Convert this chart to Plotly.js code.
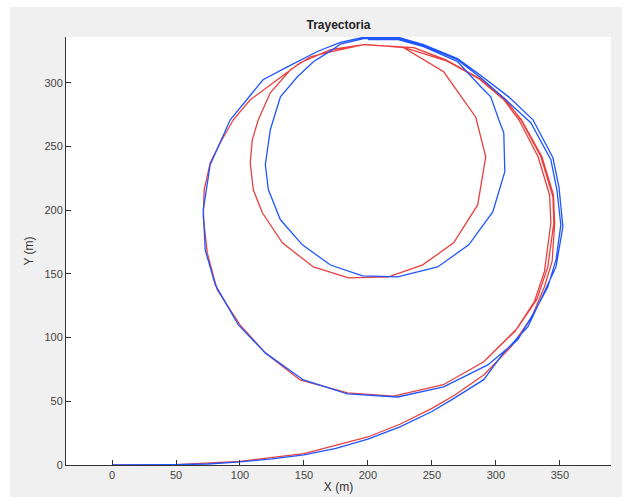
<!DOCTYPE html>
<html>
<head>
<meta charset="utf-8">
<script src="https://cdn.plot.ly/plotly-3.0.1.min.js"></script>
<style>
  html, body { margin: 0; padding: 0; background: #ffffff; }
  #chart { position: absolute; left: 10px; top: 7px; width: 612px; height: 490px; }
</style>
</head>
<body>
<div id="chart"></div>
<script>
// Blue trajectory (actual)
const blueX = [0,25,50,75,100,125,150,175,200,225,250,266,290.5,306,325,337.5,347,352.4,349.3,344.6,329,310,288,270,243.5,223,196.6,178.5,160.5,137,118,92.4,76.7,71.3,72.8,80.7,98.7,119.8,149.6,184,223.2,259.2,293.7,317.1,329.7,340.6,347,350.8,347.7,343,327.3,307.8,288.2,270.2,243.5,223,196.6,178.5,173,157.4,144.9,131.6,123.7,119.8,122.2,131.6,148.8,170.7,195.8,223.2,254.5,278.8,297.6,307,306.2,302.3,296,288.2,270.2,243.5,223,200];
const blueY = [0,0,0.2,0.8,2.4,4.8,7.9,13,20.4,30,42,51.5,67,88,108.4,135,155.5,187,218.4,241.2,271,289,306,319,330,336,335.8,331.8,324.6,312.6,302.4,271,235.7,200.3,168.9,141.4,110,88,66.8,55.8,53.4,61.3,78.6,98.2,119.4,139.8,161,188.5,216,239.6,268.7,286.7,304,318,329.4,335,334.8,330.5,326.5,316.6,304.8,289.1,263.2,235.7,216,192.5,172.8,157,148.5,147.7,155.5,172.8,198.7,230.2,260.8,271,289,297,316.6,328.5,334.2,334];

// Red trajectory (reference)
const redX = [0,50,100,150,200,225,250,268,291,312,328,338,344,346,345,336,320,307,288,261,236,197,171,147,108,94.8,84.6,76.7,72,71.3,74.4,82.2,100,119.8,147,184,220,259,290.5,317,332,340.6,345.3,344.6,335.2,319.5,307.8,288.2,260.8,235.7,196.6,170.7,147.2,108,94.8,84.6,76.7,72,71.3,74.4,82.2,100,119.8,147,184,220,259,290.5,315,330,338,343,342,333,318,306,287,262,228,196.6,170.7,155,139.4,123.7,114.3,109.6,108,110.4,117.5,133.1,157.4,184.8,216.1,242.8,267,285.8,292.1,284.3,259.2,227.9,200];
const redY = [0,0.3,2.8,9,22,32,44.5,55,71,93,116,140,160,190,212,242,271,287,303,318,327.6,330,326,315.8,286.7,271,253,237.2,216,194.8,166.5,137.5,110,88,66.8,56.6,54,63,81,107.6,130,155.5,190,210.5,242,271,286.7,302.4,318,327.6,330,326,315.8,286.7,271,253,237.2,216,194.8,166.5,137.5,110,88,66.8,56.6,54,63,81,105,128,152,190,212,242,271,287,303,317,327.8,330,324.4,320.5,310.3,292.2,271,255.3,237.2,216,198,174.4,155.5,146.9,147.7,157.1,174.4,204.2,242,273,308.7,327.6,330];

const xTicks = [0,50,100,150,200,250,300,350];
const yTicks = [0,50,100,150,200,250,300];

const traces = [
  { x: redX, y: redY, type: 'scatter', mode: 'lines',
    line: { color: '#e8403f', width: 1.3 }, hoverinfo: 'skip', showlegend: false },
  { x: blueX, y: blueY, type: 'scatter', mode: 'lines',
    line: { color: '#1f55ff', width: 1.3 }, hoverinfo: 'skip', showlegend: false }
];

const axisCommon = {
  showgrid: false, zeroline: false, showline: true, linecolor: '#333333', linewidth: 1,
  ticks: 'inside', ticklen: 5, tickcolor: '#333333', tickwidth: 1,
  tickfont: { family: 'Liberation Sans, Arial, sans-serif', size: 11, color: '#444444' },
  mirror: false
};

const layout = {
  width: 612, height: 490,
  paper_bgcolor: '#f0f0f0', plot_bgcolor: '#ffffff',
  margin: { l: 56, r: 11, t: 30, b: 32 },
  title: { text: '<b>Trayectoria</b>', x: 0.5, xref: 'paper', y: 1 - 18/490, yref: 'container', yanchor: 'middle',
           font: { family: 'Liberation Sans, Arial, sans-serif', size: 12, color: '#222222' } },
  xaxis: Object.assign({}, axisCommon, {
    range: [-36, 390], tickvals: xTicks, ticktext: xTicks.map(String),
    title: { text: 'X (m)', standoff: 2, font: { family: 'Liberation Sans, Arial, sans-serif', size: 12, color: '#333333' } }
  }),
  yaxis: Object.assign({}, axisCommon, {
    range: [0, 336], tickvals: yTicks, ticktext: yTicks.map(String),
    title: { text: 'Y (m)', standoff: 8, font: { family: 'Liberation Sans, Arial, sans-serif', size: 12, color: '#333333' } }
  })
};

Plotly.newPlot('chart', traces, layout, { displayModeBar: false, staticPlot: true });
</script>
</body>
</html>
